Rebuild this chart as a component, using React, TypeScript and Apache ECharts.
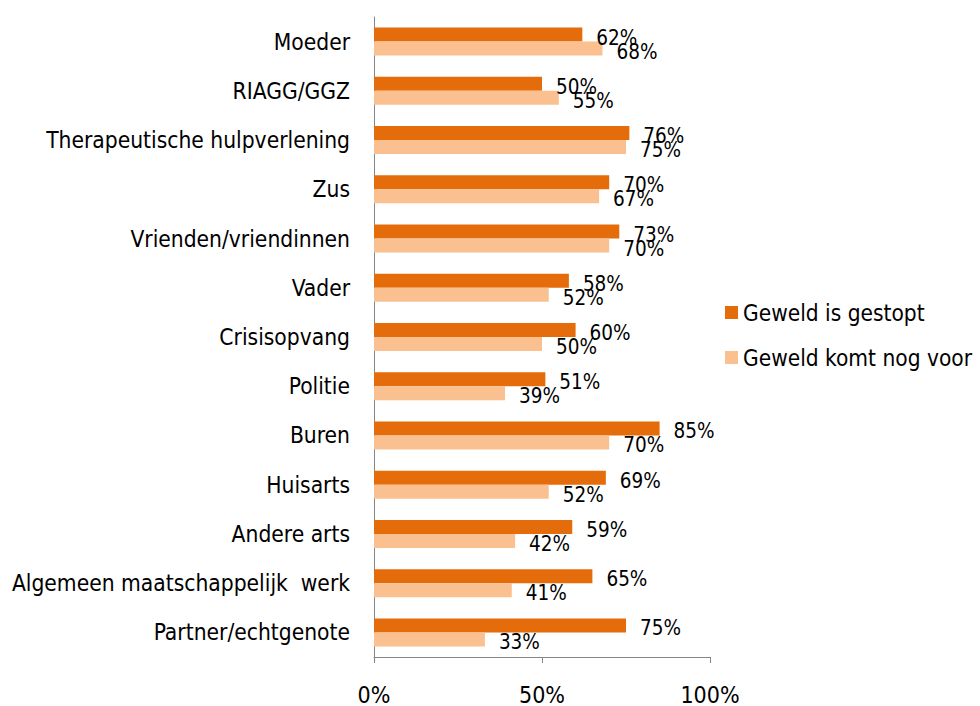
import React, { useEffect, useRef } from "react";
import * as echarts from "echarts";

const categories = [
  "Moeder",
  "RIAGG/GGZ",
  "Therapeutische hulpverlening",
  "Zus",
  "Vrienden/vriendinnen",
  "Vader",
  "Crisisopvang",
  "Politie",
  "Buren",
  "Huisarts",
  "Andere arts",
  "Algemeen maatschappelijk  werk",
  "Partner/echtgenote",
];
const gestopt = [62, 50, 76, 70, 73, 58, 60, 51, 85, 69, 59, 65, 75];
const nogVoor = [68, 55, 75, 67, 70, 52, 50, 39, 70, 52, 42, 41, 33];
const seriesNames = ["Geweld is gestopt", "Geweld komt nog voor"];

const FONT = "'DejaVu Sans Condensed', 'DejaVu Sans', sans-serif";

export default function App() {
  const ref = useRef<HTMLDivElement>(null);
  useEffect(() => {
    if (!ref.current) return;
    const chart = echarts.init(ref.current, null, { renderer: "svg" });
    const label = {
      show: true,
      position: "right",
      distance: 14,
      offset: [0, 3],
      formatter: "{c}%",
      color: "#000",
      fontFamily: FONT,
      fontSize: 20.5,
    };
    chart.setOption({
      animation: false,
      textStyle: { fontFamily: FONT },
      grid: { left: 374, right: 270, top: 17, bottom: 48, containLabel: false },
      legend: {
        orient: "vertical",
        left: 720,
        top: 296,
        itemWidth: 13,
        itemHeight: 13,
        itemGap: 22,
        icon: "rect",
        textStyle: { fontFamily: FONT, fontSize: 22.5, color: "#000" },
        data: seriesNames,
      },
      xAxis: {
        type: "value",
        min: 0,
        max: 100,
        interval: 50,
        axisLine: { show: true, lineStyle: { color: "#868686", width: 1 } },
        axisTick: { show: true, length: 6, lineStyle: { color: "#868686" } },
        splitLine: { show: false },
        axisLabel: {
          formatter: "{value}%",
          margin: 26,
          color: "#000",
          fontFamily: FONT,
          fontSize: 23,
        },
      },
      yAxis: {
        type: "category",
        inverse: true,
        data: categories,
        axisLine: { show: true, lineStyle: { color: "#868686", width: 1 } },
        axisTick: { show: false },
        axisLabel: {
          margin: 24,
          color: "#000",
          fontFamily: FONT,
          fontSize: 22.6,
        },
      },
      series: [
        {
          name: seriesNames[0],
          type: "bar",
          data: gestopt,
          barWidth: 14,
          barGap: "0%",
          itemStyle: { color: "#E46C0A" },
          label,
        },
        {
          name: seriesNames[1],
          type: "bar",
          data: nogVoor,
          barWidth: 14,
          barGap: "0%",
          itemStyle: { color: "#FAC090" },
          label,
        },
      ],
    });
    return () => chart.dispose();
  }, []);
  return <div ref={ref} style={{ width: 980, height: 706, position: "absolute", left: 0, top: 0 }} />;
}
